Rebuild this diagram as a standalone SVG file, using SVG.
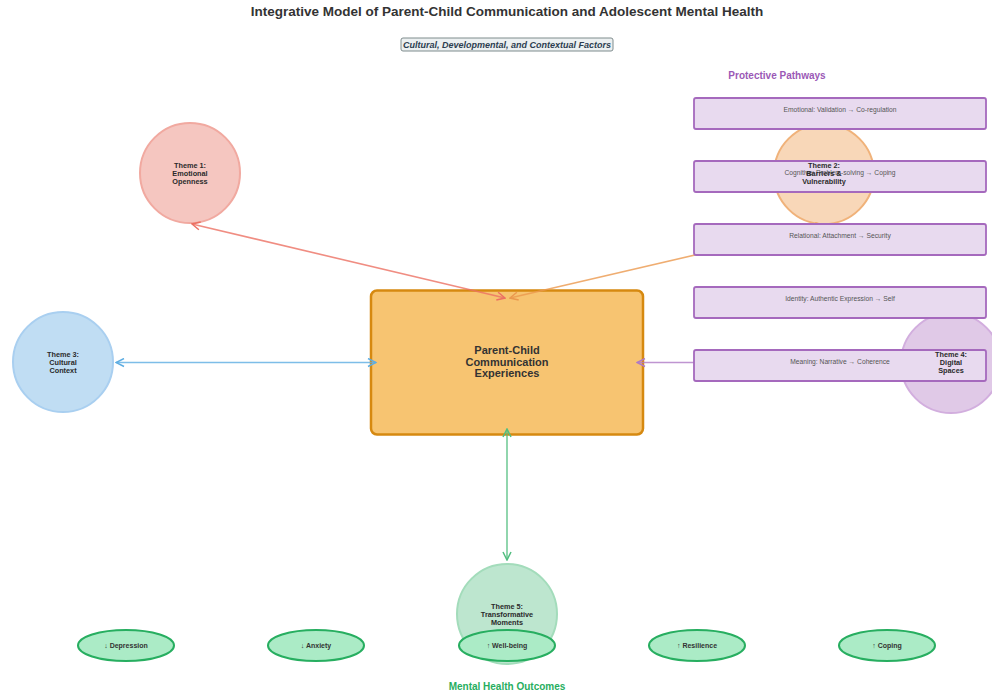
<svg xmlns="http://www.w3.org/2000/svg" width="992" height="693" viewBox="0 0 992 693">
  <style>
    text { font-family: "Liberation Sans", Arial, sans-serif; text-anchor: middle; }
    .title { font-size: 13.5px; font-weight: bold; fill: #333333; }
    .sub { font-size: 9px; font-weight: bold; font-style: italic; fill: #2c3e50; }
    .sect { font-size: 10px; font-weight: bold; }
    .theme { font-size: 7.3px; font-weight: bold; fill: #2b2b2b; }
    .core { font-size: 11px; font-weight: bold; fill: #333333; }
    .path-box { fill: #e8daef; stroke: #a569bd; stroke-width: 1.8; }
    .path-txt { font-size: 6.7px; fill: #555555; }
    .out { fill: #abebc6; stroke: #27ae60; stroke-width: 2; }
    .out-txt { font-size: 7px; font-weight: bold; fill: #333333; }
    .link { fill: none; stroke-width: 1.6; }
  </style>
  <defs>
    <marker id="ah-red" viewBox="0 0 10 10" refX="9" refY="5" markerWidth="10" markerHeight="10" markerUnits="userSpaceOnUse" orient="auto-start-reverse">
      <path d="M1,1 L9,5 L1,9" fill="none" stroke="#ec7063" stroke-width="1.5"/>
    </marker>
    <marker id="ah-orange" viewBox="0 0 10 10" refX="9" refY="5" markerWidth="10" markerHeight="10" markerUnits="userSpaceOnUse" orient="auto-start-reverse">
      <path d="M1,1 L9,5 L1,9" fill="none" stroke="#eb984e" stroke-width="1.5"/>
    </marker>
    <marker id="ah-blue" viewBox="0 0 10 10" refX="9" refY="5" markerWidth="10" markerHeight="10" markerUnits="userSpaceOnUse" orient="auto-start-reverse">
      <path d="M1,1 L9,5 L1,9" fill="none" stroke="#5dade2" stroke-width="1.5"/>
    </marker>
    <marker id="ah-purple" viewBox="0 0 10 10" refX="9" refY="5" markerWidth="10" markerHeight="10" markerUnits="userSpaceOnUse" orient="auto-start-reverse">
      <path d="M1,1 L9,5 L1,9" fill="none" stroke="#af7ac5" stroke-width="1.5"/>
    </marker>
    <marker id="ah-green" viewBox="0 0 10 10" refX="9" refY="5" markerWidth="10" markerHeight="10" markerUnits="userSpaceOnUse" orient="auto-start-reverse">
      <path d="M1,1 L9,5 L1,9" fill="none" stroke="#52be80" stroke-width="1.5"/>
    </marker>
  </defs>

  <rect width="992" height="693" fill="#ffffff"/>

  <!-- header -->
  <text class="title" x="507" y="16">Integrative Model of Parent-Child Communication and Adolescent Mental Health</text>
  <g id="context">
    <rect x="401" y="38" width="212" height="13" rx="2" fill="#ecf0f1" stroke="#7f8c8d" stroke-width="1"/>
    <text class="sub" x="507" y="47.5">Cultural, Developmental, and Contextual Factors</text>
  </g>
  <text class="sect" x="777" y="79" fill="#9b59b6">Protective Pathways</text>

  <!-- theme circles -->
  <g id="theme1"><circle cx="190" cy="173" r="50" fill="#f5c6c0" stroke="#f1a9a0" stroke-width="2"/></g>
  <g id="theme2"><circle cx="824" cy="174" r="50" fill="#f8d7b8" stroke="#f0b27a" stroke-width="2"/></g>
  <g id="theme3"><circle cx="63" cy="362" r="50" fill="#c0ddf3" stroke="#a9cff0" stroke-width="2"/></g>
  <g id="theme4"><circle cx="951" cy="363" r="50" fill="#e0c9e7" stroke="#d2aede" stroke-width="2"/></g>
  <g id="theme5"><circle cx="507" cy="614" r="50" fill="#bde6cf" stroke="#a3dcbb" stroke-width="2"/></g>

  <!-- core node -->
  <g id="core">
    <rect x="371" y="290.5" width="272" height="144" rx="6" fill="#f7c471" stroke="#d68910" stroke-width="2.5"/>
  </g>

  <!-- connectors -->
  <g id="connectors">
    <line class="link" x1="192" y1="224" x2="505" y2="298" stroke="#ec7063" stroke-opacity="0.8" marker-start="url(#ah-red)" marker-end="url(#ah-red)"/>
    <line class="link" x1="824" y1="225" x2="510" y2="298" stroke="#eb984e" stroke-opacity="0.8" marker-start="url(#ah-orange)" marker-end="url(#ah-orange)"/>
    <line class="link" x1="116" y1="362.5" x2="376" y2="362.5" stroke="#5dade2" stroke-opacity="0.8" marker-start="url(#ah-blue)" marker-end="url(#ah-blue)"/>
    <line class="link" x1="899" y1="362.5" x2="637" y2="362.5" stroke="#af7ac5" stroke-opacity="0.8" marker-start="url(#ah-purple)" marker-end="url(#ah-purple)"/>
    <line class="link" x1="507" y1="560" x2="507" y2="429" stroke="#52be80" stroke-opacity="0.8" marker-start="url(#ah-green)" marker-end="url(#ah-green)"/>
  </g>

  <!-- protective pathways -->
  <g id="pathway-emotional"><rect class="path-box" x="694" y="98" width="292" height="31" rx="2"/></g>
  <g id="pathway-cognitive"><rect class="path-box" x="694" y="161" width="292" height="31" rx="2"/></g>
  <g id="pathway-relational"><rect class="path-box" x="694" y="224" width="292" height="31" rx="2"/></g>
  <g id="pathway-identity"><rect class="path-box" x="694" y="287" width="292" height="31" rx="2"/></g>
  <g id="pathway-meaning"><rect class="path-box" x="694" y="350" width="292" height="31" rx="2"/></g>

  <!-- outcomes -->
  <g id="out-depression"><ellipse class="out" cx="126" cy="645.5" rx="48" ry="15.5"/></g>
  <g id="out-anxiety"><ellipse class="out" cx="316" cy="645.5" rx="48" ry="15.5"/></g>
  <g id="out-wellbeing"><ellipse class="out" cx="507" cy="645.5" rx="48" ry="15.5"/></g>
  <g id="out-resilience"><ellipse class="out" cx="697" cy="645.5" rx="48" ry="15.5"/></g>
  <g id="out-coping"><ellipse class="out" cx="887" cy="645.5" rx="48" ry="15.5"/></g>
  <text class="sect" x="507" y="690" fill="#27ae60">Mental Health Outcomes</text>

  <!-- labels -->
  <g id="labels">
    <text class="path-txt" x="840" y="112">Emotional: Validation → Co-regulation</text>
    <text class="path-txt" x="840" y="175">Cognitive: Problem-solving → Coping</text>
    <text class="path-txt" x="840" y="238">Relational: Attachment → Security</text>
    <text class="path-txt" x="840" y="301">Identity: Authentic Expression → Self</text>
    <text class="path-txt" x="840" y="364">Meaning: Narrative → Coherence</text>

    <text class="theme" x="190" y="167.5">Theme 1:</text>
    <text class="theme" x="190" y="175.5">Emotional</text>
    <text class="theme" x="190" y="183.5">Openness</text>

    <text class="theme" x="824" y="167.5">Theme 2:</text>
    <text class="theme" x="824" y="175.5">Barriers &amp;</text>
    <text class="theme" x="824" y="183.5">Vulnerability</text>

    <text class="theme" x="63" y="356.5">Theme 3:</text>
    <text class="theme" x="63" y="364.5">Cultural</text>
    <text class="theme" x="63" y="372.5">Context</text>

    <text class="theme" x="951" y="356.5">Theme 4:</text>
    <text class="theme" x="951" y="364.5">Digital</text>
    <text class="theme" x="951" y="372.5">Spaces</text>

    <text class="theme" x="507" y="608.5">Theme 5:</text>
    <text class="theme" x="507" y="616.5">Transformative</text>
    <text class="theme" x="507" y="624.5">Moments</text>

    <text class="core" x="507" y="354">Parent-Child</text>
    <text class="core" x="507" y="365.5">Communication</text>
    <text class="core" x="507" y="377">Experiences</text>

    <text class="out-txt" x="126" y="648">↓ Depression</text>
    <text class="out-txt" x="316" y="648">↓ Anxiety</text>
    <text class="out-txt" x="507" y="648">↑ Well-being</text>
    <text class="out-txt" x="697" y="648">↑ Resilience</text>
    <text class="out-txt" x="887" y="648">↑ Coping</text>
  </g>
</svg>
